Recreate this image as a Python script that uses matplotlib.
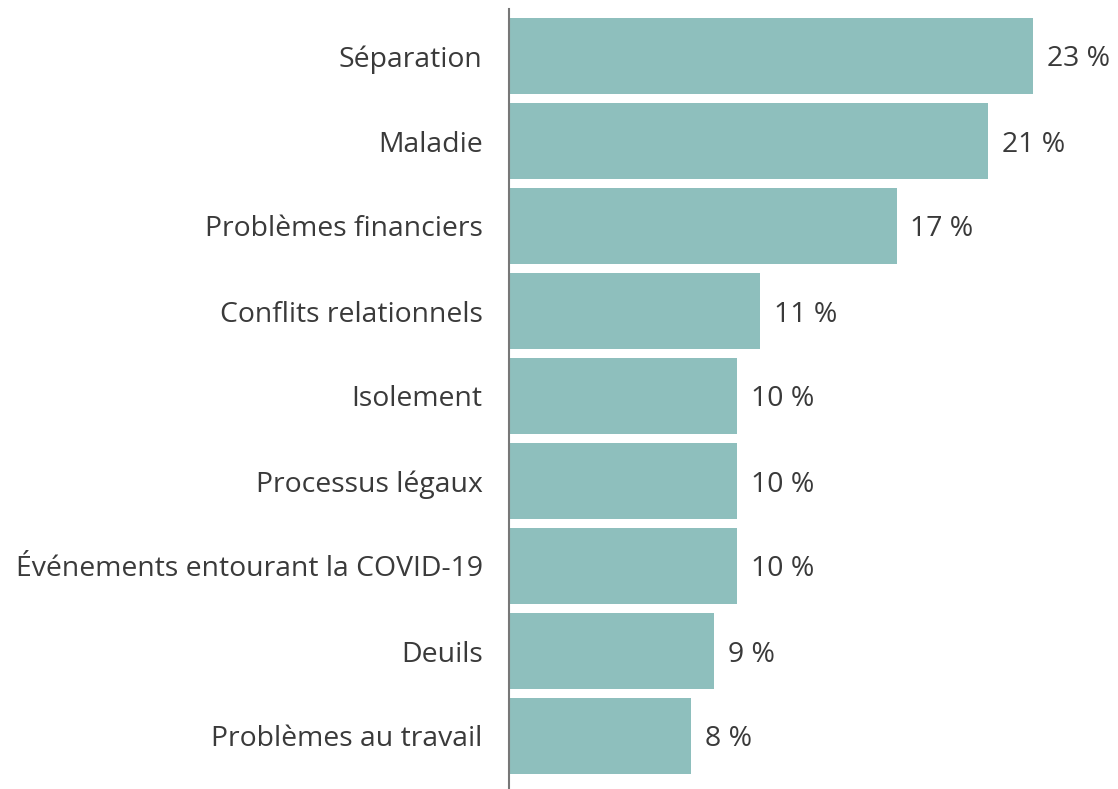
import matplotlib
matplotlib.use("Agg")
import matplotlib.pyplot as plt

plt.rcParams["font.family"] = ["Open Sans", "DejaVu Sans"]

categories = [
    "Séparation",
    "Maladie",
    "Problèmes financiers",
    "Conflits relationnels",
    "Isolement",
    "Processus légaux",
    "Événements entourant la COVID-19",
    "Deuils",
    "Problèmes au travail",
]
values = [23, 21, 17, 11, 10, 10, 10, 9, 8]

bar_color = "#8ebfbd"
text_color = "#3a3a3a"
font_size = 20.4

fig = plt.figure(figsize=(11.18, 7.89), dpi=100, facecolor="white")
ax = fig.add_axes([509 / 1118, 0, 1 - 509 / 1118, 1 - 9 / 789])

y = list(range(len(categories)))
ax.barh(y, values, height=0.894, color=bar_color)

for yi, v in zip(y, values):
    ax.annotate(f"{v} %", (v, yi), xytext=(10, 0), textcoords="offset points",
                va="center_baseline", ha="left", fontsize=font_size, color=text_color)

ax.set_xlim(0, 609 / 22.8)
ax.set_ylim(8 + 53 / 85, -47 / 85)
ax.set_yticks(y)
ax.set_yticklabels(categories, fontsize=font_size, color=text_color)
ax.tick_params(axis="y", length=0, pad=19)
ax.set_xticks([])
for s in ["top", "right", "bottom"]:
    ax.spines[s].set_visible(False)
ax.spines["left"].set_color("#777777")
ax.spines["left"].set_linewidth(1.5)

fig.savefig("out.png", dpi=100)
